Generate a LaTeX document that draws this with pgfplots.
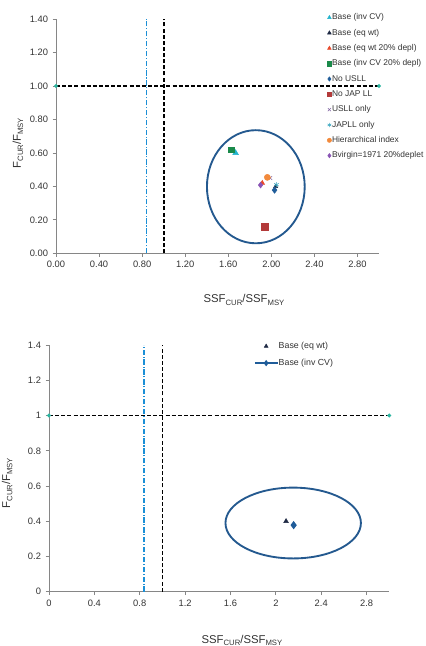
\documentclass[border=0pt]{standalone}
\usepackage{pgfplots}
\pgfplotsset{compat=1.18}
\usepackage{fontspec}
\setmainfont{Liberation Sans}
\definecolor{axgray}{HTML}{868686}
\definecolor{txt}{HTML}{333333}
\definecolor{ellblue}{HTML}{24598F}
\definecolor{dashblue}{HTML}{1B8FD6}
\definecolor{cyanT}{HTML}{22B3CC}
\definecolor{navyT}{HTML}{1F2A44}
\definecolor{redT}{HTML}{E84A2C}
\definecolor{greenS}{HTML}{1A8A4A}
\definecolor{blueD}{HTML}{1F5C99}
\definecolor{redS}{HTML}{B33A3A}
\definecolor{purpX}{HTML}{8064A2}
\definecolor{tealJ}{HTML}{3BA7C0}
\definecolor{orangeC}{HTML}{F28A3C}
\definecolor{purpD}{HTML}{8A55B5}
\definecolor{endteal}{HTML}{2BB5A0}
\newcommand{\sub}[1]{\raisebox{-0.35ex}{\fontsize{5.8}{6}\selectfont #1}}
\pgfplotsset{
  mk/.style={only marks, legend image code/.code={\draw[##1, mark size=1.6pt] plot coordinates {(0.07cm,0cm)};}},
  common/.style={
    scale only axis,
    axis lines=left,
    axis line style={axgray, line width=0.6pt, -},
    xmin=0, xmax=3, ymin=0, ymax=1.4,
    clip=false,
    tick align=outside,
    major tick length=2.5pt,
    tick style={axgray, line width=0.6pt},
    ticklabel style={font=\fontsize{7}{8}\selectfont, text=txt},
    /pgf/number format/assume math mode=true,
    xtick={0,0.4,0.8,1.2,1.6,2,2.4,2.8},
    ytick={0,0.2,0.4,0.6,0.8,1,1.2,1.4},
    label style={font=\fontsize{8.5}{10}\selectfont, text=txt},
    legend cell align=left,
  },
  refl/.style={forget plot, black, line width=1.25pt, dash pattern=on 3pt off 1.6pt},
  refb/.style={forget plot, dashblue, line width=1.3pt, dash pattern=on 4pt off 1.3pt on 0.8pt off 1.3pt},
}
\begin{document}
\begin{tikzpicture}
\useasboundingbox (0pt,0pt) rectangle (318.75pt,-484.5pt);
% ---------------- top chart ----------------
\begin{axis}[common,
  at={(42pt,-190pt)}, anchor=south west,
  width=242.25pt, height=175.7pt,
  x tick label style={/pgf/number format/.cd, fixed, fixed zerofill, precision=2, /tikz/.cd},
  y tick label style={/pgf/number format/.cd, fixed, fixed zerofill, precision=2, /tikz/.cd},
  xlabel={SSF\sub{CUR}/SSF\sub{MSY}},
  ylabel={F\sub{CUR}/F\sub{MSY}},
  xlabel style={at={(axis description cs:0.582,-0.199)}, anchor=center},
  ylabel style={at={(axis description cs:-0.118,0.47)}, anchor=center, rotate=0},
  legend style={at={(axis description cs:0.839,1.026)}, anchor=north west, draw=none, fill=none,
    font=\fontsize{6.3}{7}\selectfont, text=txt, row sep=4.9pt, inner sep=0pt,
    nodes={inner sep=0.4pt, text height=4.6pt, text depth=1.2pt}},
]
\addplot[refb] coordinates {(0.84,0) (0.84,1.4)};
\addplot[refl] coordinates {(1,0) (1,1.4)};
\addplot[refl, mark=*, mark size=0.7pt, mark options={solid, endteal}] coordinates {(0,1) (3,1)};
\draw[ellblue, line width=1.4pt] (axis cs:1.856,0.398) ellipse [x radius=0.454, y radius=0.338];
\addplot[mk, mark=triangle*, mark size=2.4pt, color=cyanT] coordinates {(1.668,0.600)};
\addlegendentry{Base (inv CV)}
\addplot[mk, mark=triangle*, mark size=1.7pt, color=navyT] coordinates {(2.04,0.400)};
\addlegendentry{Base (eq wt)}
\addplot[mk, mark=triangle*, mark size=2.0pt, color=redT] coordinates {(1.916,0.420)};
\addlegendentry{Base (eq wt 20\%  depl)}
\addplot[mk, mark=square*, mark size=1.9pt, color=greenS] coordinates {(1.628,0.617)};
\addlegendentry{Base (inv CV 20\% depl)}
\addplot[mk, mark=diamond*, mark size=2.4pt, color=blueD] coordinates {(2.030,0.378)};
\addlegendentry{No USLL}
\addplot[mk, mark=square*, mark size=2.6pt, color=redS] coordinates {(1.938,0.157)};
\addlegendentry{No JAP LL}
\addplot[mk, mark=x, mark size=2.0pt, color=purpX] coordinates {(1.990,0.450)};
\addlegendentry{USLL only}
\addplot[mk, mark=asterisk, mark size=2.0pt, color=tealJ] coordinates {(2.047,0.410)};
\addlegendentry{JAPLL only}
\addplot[mk, mark=*, mark size=2.3pt, color=orangeC] coordinates {(1.963,0.454)};
\addlegendentry{Hierarchical index}
\addplot[mk, mark=diamond*, mark size=2.2pt, color=purpD] coordinates {(1.900,0.408)};
\addlegendentry{Bvirgin=1971 20\%deplet}
\end{axis}
% ---------------- bottom chart ----------------
\begin{axis}[common,
  at={(36.75pt,-443.8pt)}, anchor=south west,
  width=255.2pt, height=185pt,
  xlabel={SSF\sub{CUR}/SSF\sub{MSY}},
  ylabel={F\sub{CUR}/F\sub{MSY}},
  xlabel style={at={(axis description cs:0.567,-0.196)}, anchor=center},
  ylabel style={at={(axis description cs:-0.123,0.44)}, anchor=center, rotate=0},
  legend image post style={mark size=1.6pt},
  legend style={at={(axis description cs:0.602,1.016)}, anchor=north west, draw=none, fill=none,
    font=\fontsize{6.6}{7.5}\selectfont, text=txt, row sep=5.5pt, inner sep=0pt,
    nodes={inner sep=0.4pt, text height=5pt, text depth=1.4pt}},
]
\addplot[refb] coordinates {(0.84,0) (0.84,1.4)};
\addplot[refl] coordinates {(1,0) (1,1.4)};
\addplot[refl, mark=*, mark size=0.7pt, mark options={solid, endteal}] coordinates {(0,1) (3,1)};
\draw[ellblue, line width=1.4pt] (axis cs:2.153,0.39) ellipse [x radius=0.597, y radius=0.201];
\addplot[only marks, mark=triangle*, mark size=2.0pt, color=navyT] coordinates {(2.09,0.400)};
\addlegendentry{Base (eq wt)}
\addplot[blueD, line width=1pt, mark=diamond*, mark size=2.3pt] coordinates {(2.157,0.378)};
\addlegendentry{Base (inv CV)}
\end{axis}
\end{tikzpicture}
\end{document}
